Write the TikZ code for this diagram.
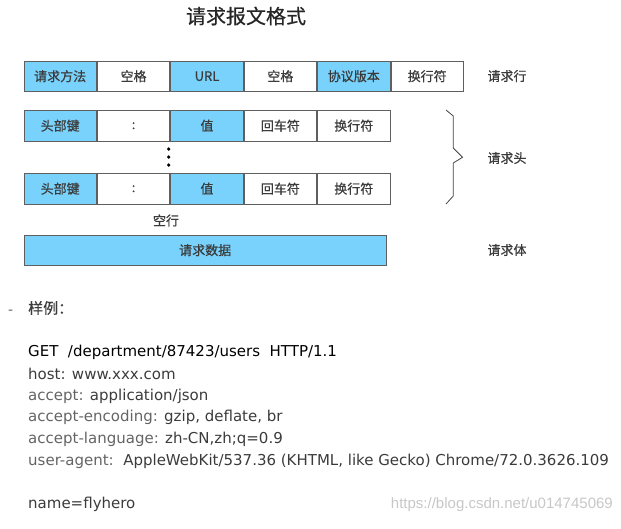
\documentclass[tikz,border=0pt]{standalone}
\usepackage{fontspec}
\setmainfont{DejaVu Sans}
\newfontfamily\cjk[FakeBold=0.5]{Noto Sans CJK SC}
\newfontfamily\wmfont{Liberation Sans}
\definecolor{cellblue}{RGB}{120,210,252}
\definecolor{edgegray}{RGB}{95,95,95}
\definecolor{keygray}{RGB}{100,100,100}
\definecolor{valink}{RGB}{25,25,25}
\usetikzlibrary{positioning}

\begin{document}
\begin{tikzpicture}[x=1pt, y=-1pt, font=\cjk\fontsize{13}{13}\selectfont, text=valink!85,
  cell/.style={draw=edgegray, line width=0.9pt, minimum width=72.5pt, minimum height=30.5pt, inner sep=0pt, anchor=north west},
  keycell/.style={cell, fill=cellblue},
  side/.style={anchor=center},
  sample/.style={anchor=west, inner sep=0pt, font=\fontsize{15}{15}\selectfont}]
  \useasboundingbox (0,0) rectangle (621,528);
  \node[font=\cjk\fontsize{20}{20}\selectfont, text=black!85] (title) at (246,16) {请求报文格式};
  % request line
  \node[keycell] (meth) at (23.5,60.5) {请求方法};
  \node[cell] (sp1) at (meth.north east) {空格};
  \node[keycell] (url) at (sp1.north east) {URL};
  \node[cell] (sp2) at (url.north east) {空格};
  \node[keycell] (ver) at (sp2.north east) {协议版本};
  \node[cell] (lf1) at (ver.north east) {换行符};
  % header lines
  \foreach \r/\y in {a/110, b/173} {
    \node[keycell] (hk\r) at (23.5,\y) {头部键};
    \node[cell] (hc\r) at (hk\r.north east) {:};
    \node[keycell] (hv\r) at (hc\r.north east) {值};
    \node[cell] (cr\r) at (hv\r.north east) {回车符};
    \node[cell] (lf\r) at (cr\r.north east) {换行符};
  }
  \foreach \y in {149,157,165} \fill[black] (168.7,\y) circle (1.8);
  \node (blank) at (166,220.5) {空行};
  \node[keycell, minimum width=362.5pt] (body) at (23.5,234.5) {请求数据};
  % brace
  \draw[edgegray!70!black, line width=0.8pt] (446,110) -- (453.3,116) -- (453.3,148) -- (462.5,157.3) -- (453.3,163) -- (453.3,196) -- (446,204);
  \node[side] (lreq) at (507,76) {请求行};
  \node[side] (lhead) at (507,158) {请求头};
  \node[side] (lbody) at (507,250) {请求体};
  % sample
  \node[anchor=base west, inner sep=0pt, font=\fontsize{14}{14}\selectfont, text=keygray] (dash) at (8,314) {-};
  \node[anchor=west, inner sep=0pt, font=\cjk\fontsize{15}{15}\selectfont] (ex) at (28,308) {样例：};
  \node[sample, text=black] (l1) at (28,352) {GET~~/department/87423/users~~HTTP/1.1};
  \node[sample] (l2) at (28,374) {host: www.xxx.com};
  \node[sample] (l3) at (28,396) {\textcolor{keygray}{accept:} application/json};
  \node[sample] (l4) at (28,417.5) {\textcolor{keygray}{accept-encoding:} gzip, deflate, br};
  \node[sample] (l5) at (28,439) {\textcolor{keygray}{accept-language:} zh-CN,zh;q=0.9};
  \node[sample] (l6) at (28,461) {\textcolor{keygray}{user-agent:}~~AppleWebKit/537.36 (KHTML, like Gecko) Chrome/72.0.3626.109};
  \node[sample] (l7) at (28,504) {name=flyhero};
  \node[anchor=east, inner sep=0pt, font=\wmfont\fontsize{15}{15}\selectfont, text=black!22] (mark) at (613,505) {https://blog.csdn.net/u014745069};
\end{tikzpicture}
\end{document}
